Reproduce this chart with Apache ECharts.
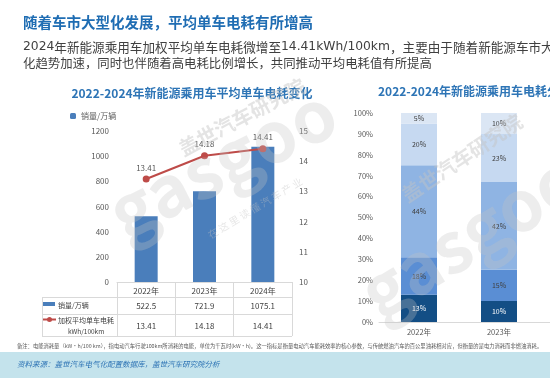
<!DOCTYPE html>
<html><head><meta charset="utf-8">
<script src="https://cdn.jsdelivr.net/npm/echarts@6/dist/echarts.min.js"></script>
<style>html,body{margin:0;padding:0;background:#fff}#c{width:550px;height:378px}</style>
</head><body><div id="c"></div>
<script>
// ---- data ----
const years = ['2022年', '2023年', '2024年'];
const sales = [522.5, 721.9, 1075.1];            // 销量/万辆
const consumption = [13.41, 14.18, 14.41];       // kWh/100km
const salesTicks = [0, 1200, 200];               // min, max, interval
const consTicks = [10, 15, 1];
const shareYears = ['2022年', '2023年', '2024年'];
const shareBand1 = [13, 10, null];
const shareBand2 = [18, 15, null];
const shareBand3 = [44, 42, null];
const shareBand4 = [20, 23, null];
const shareBand5 = [5, 10, null];
const shareNames = ['区间1', '区间2', '区间3', '区间4', '区间5'];

const FF = '"Noto Sans CJK SC","Noto Sans",sans-serif';
const chart = echarts.init(document.getElementById('c'), null, {renderer: 'canvas'});
const shareColors = ['#134e85', '#5a8ed4', '#8fb4e3', '#c6d9f1', '#dbe6f4'];
const shareData = [shareBand1, shareBand2, shareBand3, shareBand4, shareBand5];

const shareSeries = shareData.map((d, i) => ({
  name: shareNames[i], type: 'bar', stack: 'share', xAxisIndex: 1, yAxisIndex: 2,
  barWidth: 36, data: d,
  itemStyle: {color: shareColors[i]},
  label: {show: true, position: 'inside', formatter: p => p.value == null ? '' : p.value + '%',
    fontSize: 7, fontFamily: FF, color: i === 0 ? '#ffffff' : '#404040'}
}));

const lineCol = '#d9d9d9';
const wm = (x, y, txt, size, rot, op, weight) => ({type: 'text', x: x, y: y, rotation: rot, silent: true, z: 100,
  style: {text: txt, font: (weight || 'bold') + ' ' + size + 'px ' + FF, fill: '#c4c4c4', opacity: op, align: 'center', verticalAlign: 'middle'}});

const option = {
  backgroundColor: '#ffffff',
  animation: false,
  textStyle: {fontFamily: FF},
  legend: {data: ['销量/万辆'], left: 70, top: 112, itemWidth: 6, itemHeight: 6, itemGap: 4,
    textStyle: {fontSize: 8, color: '#595959', fontFamily: FF}, padding: 0},
  grid: [
    {left: 117, top: 131, width: 175, height: 151, outerBoundsMode: 'none'},
    {left: 379, top: 113, width: 240, height: 209, outerBoundsMode: 'none'}
  ],
  xAxis: [
    {type: 'category', gridIndex: 0, data: years,
      axisLine: {lineStyle: {color: lineCol}},
      axisTick: {show: true, length: 54, lineStyle: {color: lineCol}},
      axisLabel: {margin: 2, interval: 0, color: '#404040', fontFamily: FF,
        formatter: (v, i) => '{y|' + v + '}\n{s|' + sales[i] + '}\n{c|' + consumption[i].toFixed(2) + '}',
        rich: {
          y: {fontSize: 8, lineHeight: 14, color: '#404040', fontFamily: FF},
          s: {fontSize: 8, lineHeight: 16, color: '#404040', fontFamily: FF},
          c: {fontSize: 8, lineHeight: 24, color: '#404040', fontFamily: FF}
        }}},
    {type: 'category', gridIndex: 1, data: shareYears,
      axisLine: {lineStyle: {color: lineCol}}, axisTick: {show: false},
      axisLabel: {margin: 6, interval: 0, fontSize: 7.5, color: '#595959', fontFamily: FF}}
  ],
  yAxis: [
    {type: 'value', gridIndex: 0, min: salesTicks[0], max: salesTicks[1], interval: salesTicks[2],
      splitLine: {show: false}, axisLine: {show: false}, axisTick: {show: false},
      axisLabel: {margin: 8, fontSize: 8, color: '#595959', fontFamily: FF, formatter: v => String(v)}},
    {type: 'value', gridIndex: 0, position: 'right', min: consTicks[0], max: consTicks[1], interval: consTicks[2],
      splitLine: {show: false}, axisLine: {show: false}, axisTick: {show: false},
      axisLabel: {margin: 7, fontSize: 8, color: '#595959', fontFamily: FF, formatter: v => String(v)}},
    {type: 'value', gridIndex: 1, min: 0, max: 100, interval: 10,
      splitLine: {show: false}, axisLine: {show: false}, axisTick: {show: false},
      axisLabel: {margin: 6, fontSize: 7.5, color: '#595959', fontFamily: FF, formatter: '{value}%'}}
  ],
  series: [
    {name: '销量/万辆', type: 'bar', xAxisIndex: 0, yAxisIndex: 0, data: sales, barWidth: 23,
      itemStyle: {color: '#4a7ebb'}},
    {name: '加权平均单车电耗', type: 'line', xAxisIndex: 0, yAxisIndex: 1, data: consumption,
      symbol: 'circle', symbolSize: 7, itemStyle: {color: '#be4b48'}, lineStyle: {color: '#be4b48', width: 2},
      label: {show: true, position: 'top', distance: 4, fontSize: 8, color: '#595959', fontFamily: FF,
        formatter: p => p.value.toFixed(2)}},
    ...shareSeries
  ],
  graphic: [
    {type: 'text', left: 23, top: 15, style: {text: '随着车市大型化发展，平均单车电耗有所增高',
      font: 'bold 14.5px ' + FF, fill: '#1f6db3'}},
    {type: 'text', left: 23, top: 41, style: {
      text: '{l|2024}年新能源乘用车加权平均单车电耗微增至{l|14.41kWh/100km}，主要由于随着新能源车市大型',
      font: '12.6px ' + FF, fill: '#404040',
      rich: {l: {fontFamily: '"DejaVu Sans"', fontSize: 12.3, fill: '#404040'}}}},
    {type: 'text', left: 23, top: 57, style: {text: '化趋势加速，同时也伴随着高电耗比例增长，共同推动平均电耗值有所提高',
      font: '12.4px ' + FF, fill: '#404040'}},
    {type: 'text', x: 192, y: 93, style: {text: '2022-2024年新能源乘用车平均单车电耗变化',
      font: 'bold 12px ' + FF, fill: '#2e75b6', align: 'center', verticalAlign: 'middle'}},
    {type: 'text', x: 378, y: 91, style: {text: '2022-2024年新能源乘用车电耗分布',
      font: 'bold 12px ' + FF, fill: '#2e75b6', align: 'left', verticalAlign: 'middle'}},
    // table frame
    {type: 'line', shape: {x1: 42, y1: 297.5, x2: 292, y2: 297.5}, style: {stroke: lineCol, lineWidth: 1}},
    {type: 'line', shape: {x1: 42, y1: 314.5, x2: 292, y2: 314.5}, style: {stroke: lineCol, lineWidth: 1}},
    {type: 'line', shape: {x1: 42, y1: 336.5, x2: 292, y2: 336.5}, style: {stroke: lineCol, lineWidth: 1}},
    {type: 'line', shape: {x1: 42.5, y1: 297, x2: 42.5, y2: 336}, style: {stroke: lineCol, lineWidth: 1}},
    {type: 'rect', shape: {x: 43, y: 302, width: 12, height: 4}, style: {fill: '#4a7ebb'}},
    {type: 'text', x: 58, y: 305.5, style: {text: '销量/万辆', font: '7px ' + FF, fill: '#404040', verticalAlign: 'middle'}},
    {type: 'line', shape: {x1: 43, y1: 319.5, x2: 56, y2: 319.5}, style: {stroke: '#be4b48', lineWidth: 2}},
    {type: 'circle', shape: {cx: 49.5, cy: 319.5, r: 2.5}, style: {fill: '#be4b48'}},
    {type: 'text', x: 58, y: 320, style: {text: '加权平均单车电耗', font: '7px ' + FF, fill: '#404040', verticalAlign: 'middle'}},
    {type: 'text', x: 68, y: 331.5, style: {text: 'kWh/100km', font: '6.5px ' + FF, fill: '#404040', verticalAlign: 'middle'}},
    // note
    {type: 'text', left: 17, top: 343, style: {text: '备注：电能消耗量（kW·h/100 km），指电动汽车行驶100km所消耗的电能，单位为千瓦时(kW·h)。这一指标是衡量电动汽车能耗效率的核心参数，与传统燃油汽车的百公里油耗相对应，但衡量的是电力消耗而非燃油消耗。',
      font: '5.3px ' + FF, fill: '#595959'}},
    // source band
    {type: 'rect', shape: {x: 0, y: 352, width: 550, height: 26}, style: {fill: '#c4e3ec'}},
    {type: 'text', left: 17, top: 360, style: {text: '资料来源：盖世汽车电气化配置数据库，盖世汽车研究院分析',
      font: 'italic 7.5px ' + FF, fill: '#2e74b5'}},
    // faint watermarks
    wm(242, 117, '盖世汽车研究院', 20, 0.49, 0.45),
    wm(222, 162, 'gasgoo', 70, 0.47, 0.3),
    wm(255, 208, '在 这 里 读 懂 汽 车 产 业', 10, 0.54, 0.4, 'normal'),
    wm(462, 158, '盖世汽车研究院', 20, 0.59, 0.45),
    wm(470, 235, 'gasgoo', 70, 0.55, 0.3)
  ]
};
chart.setOption(option);
</script>
</body></html>
